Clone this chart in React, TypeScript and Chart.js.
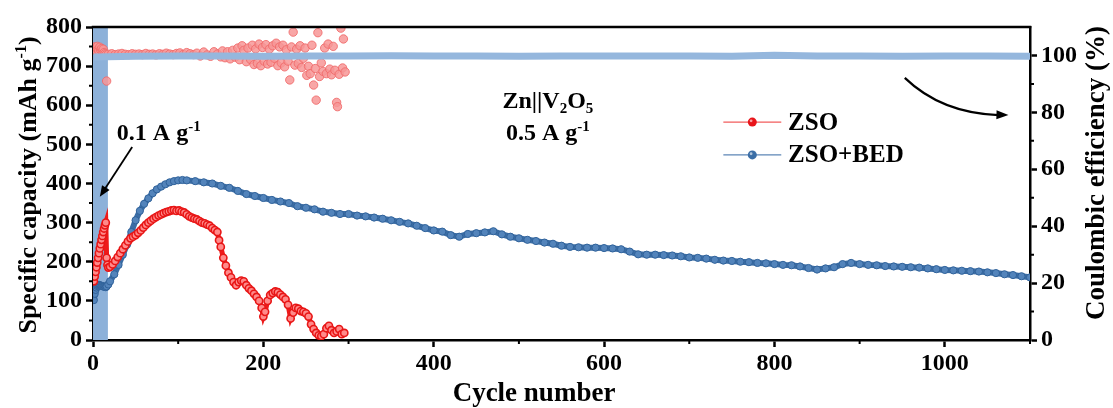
import React, { useEffect, useRef } from 'react';
import { Chart, registerables } from 'chart.js';

Chart.register(...registerables);

const FONT = '"Liberation Serif", "Times New Roman", serif';

// ---- axis ticks ----
const xTicks = [0, 200, 400, 600, 800, 1000];
const xMinorTicks = [100, 300, 500, 700, 900, 1100];
const yLeftTicks = [0, 100, 200, 300, 400, 500, 600, 700, 800];
const yLeftMinorTicks = [50, 150, 250, 350, 450, 550, 650, 750];
const yRightTicks = [0, 20, 40, 60, 80, 100];
const yRightMinorTicks = [10, 30, 50, 70, 90];

// ---- series names ----
const seriesNames = ['ZSO', 'ZSO+BED'];

// ---- ZSO specific capacity (mAh g-1) ----
const zsoCycles = [
  1, 2, 3, 4, 5, 6, 7, 8, 9, 10, 11, 12, 13, 14, 15, 16, 17, 18,
  20, 23, 26, 29, 32, 35, 38, 41, 44, 47, 50, 53, 56, 59, 62, 65, 68, 71, 74, 77, 80, 83, 86, 89, 92, 95, 98,
  101, 104, 107, 110, 113, 116, 119, 122, 125, 128, 131, 134, 137, 140, 143, 146,
  148, 150,
  153, 156, 159, 162, 165, 168, 171, 174, 177, 180, 183, 186, 189, 192, 195, 198,
  200, 202,
  205, 208, 211, 214, 217, 220, 223, 226, 229, 232, 235, 238, 241, 244, 247, 250, 253, 256, 259, 262, 265,
  268, 271, 274, 277, 280, 283, 286, 289, 292, 295,
];
const zsoCapacity = [
  150, 162, 174, 186, 198, 210, 222, 234, 245, 256, 266, 276, 285, 293, 300, 210, 192, 185,
  187, 193, 202, 212, 222, 232, 242, 252, 260, 264, 268, 274, 280, 287, 294, 300, 305, 310, 314, 318, 321, 324, 327, 329, 331, 332, 330,
  331, 328, 326, 321, 316, 313, 310, 308, 304, 300, 298, 295, 292, 286, 281, 276,
  255, 238,
  210, 190, 172, 160, 148, 140, 148, 152, 150, 140, 132, 126, 118, 110, 100, 82,
  60, 72,
  100, 115, 120, 124, 122, 116, 110, 104, 90, 55, 70, 82, 80, 74, 72, 68, 60, 40, 28, 18, 12,
  10, 15, 30, 36, 25, 18, 22, 28, 15, 18,
];

// ---- ZSO+BED specific capacity (mAh g-1) ----
const bedCycles = [
  1, 2, 3, 4, 5, 6, 7, 8, 9, 10, 11, 12, 13, 14, 15,
  16, 18, 20, 25, 30, 35, 40, 45, 50, 55, 60, 65, 70, 75, 80, 85, 90, 95, 100, 105, 110,
  120, 130, 140, 150, 160, 170, 180, 190, 200,
  210, 220, 230, 240, 250, 260, 270, 280, 290, 300,
  310, 320, 330, 340, 350, 360, 370, 380, 390, 400,
  410, 420, 430, 440, 450, 460, 470, 480, 490, 500,
  510, 520, 530, 540, 550, 560, 570, 580, 590, 600,
  610, 620, 630, 640, 650, 660, 670, 680, 690, 700,
  710, 720, 730, 740, 750, 760, 770, 780, 790, 800,
  810, 820, 830, 840, 850, 860, 870, 880, 890, 900,
  910, 920, 930, 940, 950, 960, 970, 980, 990, 1000,
  1010, 1020, 1030, 1040, 1050, 1060, 1070, 1080, 1090, 1100,
];
const bedCapacity = [
  102, 118, 128, 134, 138, 140, 141, 140, 139, 138, 138, 137, 136, 136, 135,
  137, 142, 150, 168, 192, 218, 244, 276, 306, 330, 348, 362, 375, 385, 392, 398, 403, 406, 408, 409, 408,
  406, 403, 400, 394, 389, 381, 373, 368, 363,
  358, 354, 350, 342, 338, 334, 328, 325, 322, 322,
  318, 316, 313, 310, 306, 302, 298, 292, 286, 280,
  277, 268, 264, 271, 273, 275, 278, 270, 264, 260,
  256, 253, 249, 246, 241, 238, 237, 236, 236, 235,
  234, 232, 226, 219, 218, 218, 217, 216, 214, 211,
  210, 208, 205, 203, 202, 200, 199, 197, 196, 194,
  192, 191, 188, 184, 180, 183, 186, 194, 197, 194,
  192, 191, 189, 188, 187, 186, 185, 183, 181, 179,
  178, 177, 176, 175, 173, 171, 168, 166, 163, 160,
];

// ---- ZSO Coulombic efficiency (%) ----
const zsoCeCycles = [
  1, 2, 3, 4, 5, 6, 7, 8, 9, 10, 11, 12, 13, 14, 15, 16,
  18, 22, 26, 30, 34, 38, 42, 46, 50, 54, 58, 62, 66, 70, 74, 78, 82, 86, 90, 94, 98,
  102, 106, 110, 114, 118, 122, 126, 130, 134, 138, 142, 146, 150,
  152, 155, 158, 161, 164, 167, 170, 172, 175, 177, 180, 182, 185, 187, 189, 191, 193, 195, 197, 199,
  201, 203, 205, 207, 209, 211, 213, 215, 217, 219, 221, 223, 225, 227, 229, 231, 233, 235, 237, 239,
  241, 243, 245, 247, 249, 251, 253, 255, 257, 259, 261, 262, 264, 266, 268, 270, 272, 274, 276, 278,
  280, 282, 284, 286, 287, 289, 291, 293, 294, 296,
];
const zsoCe = [
  102.4, 103.0, 101.8, 102.6, 103.2, 102.1, 101.6, 102.9, 101.9, 102.4, 101.5, 102.2, 101.0, 100.6, 100.2, 91.0,
  100.4, 100.6, 100.3, 100.5, 100.7, 100.4, 100.3, 100.6, 100.4, 100.5, 100.3, 100.7, 100.4, 100.5, 100.2, 100.6, 100.4, 100.8, 100.5, 100.3, 100.7,
  100.9, 100.4, 101.0, 100.6, 100.3, 100.8, 99.8, 101.2, 100.2, 99.7, 101.3, 100.5, 99.5,
  101.6, 99.2, 101.3, 98.8, 101.8, 99.4, 102.6, 98.5, 103.4, 101.8, 97.8, 102.6, 98.6, 103.6, 96.8, 102.3, 97.2, 104.0, 96.4, 102.8,
  98.0, 103.8, 97.0, 102.2, 97.6, 103.4, 99.0, 104.3, 96.4, 103.0, 97.4, 103.6, 96.0, 102.0, 98.0, 91.4, 103.0, 108.2, 96.6, 102.2,
  97.2, 103.4, 95.8, 99.0, 102.6, 93.0, 96.2, 93.6, 103.6, 89.6, 95.4, 84.3, 108.0, 92.6, 97.4, 94.4, 102.6, 93.6, 104.0, 95.2,
  93.2, 103.2, 94.8, 83.5, 82.0, 93.4, 109.6, 95.6, 105.8, 94.2,
];

// ---- ZSO+BED Coulombic efficiency (%) ----
const bedCeCycles = [1, 50, 100, 150, 200, 250, 300, 350, 400, 450, 500, 550, 600, 650, 700, 750, 800, 850, 900, 950, 1000, 1050, 1100];
const bedCe = [99.5, 99.7, 99.8, 99.8, 99.7, 99.8, 99.8, 99.9, 99.8, 99.8, 99.7, 99.8, 99.8, 99.8, 99.8, 99.7, 100.1, 99.8, 99.8, 99.7, 99.8, 99.8, 99.7];

// ---- low-rate activation region (cycles) ----
const activationBand = [0, 17.5];

const pairs = (xs: number[], ys: number[]) => xs.map((x, i) => ({ x, y: ys[i] }));

type Part = [string, number];

function drawRich(ctx: CanvasRenderingContext2D, parts: Part[], x: number, y: number, size: number, align: 'left' | 'center') {
  const fontFor = (k: number) => `bold ${k === 0 ? size : Math.round(size * 0.62)}px ${FONT}`;
  let total = 0;
  for (const [t, k] of parts) {
    ctx.font = fontFor(k);
    total += ctx.measureText(t).width;
  }
  let cx = align === 'center' ? x - total / 2 : x;
  ctx.textAlign = 'left';
  ctx.textBaseline = 'alphabetic';
  for (const [t, k] of parts) {
    ctx.font = fontFor(k);
    const dy = k === 1 ? -size * 0.38 : k === -1 ? size * 0.2 : 0;
    ctx.fillText(t, cx, y + dy);
    cx += ctx.measureText(t).width;
  }
}

function arrowHead(ctx: CanvasRenderingContext2D, tx: number, ty: number, angle: number, len: number, half: number) {
  ctx.beginPath();
  ctx.moveTo(tx, ty);
  ctx.lineTo(tx - len * Math.cos(angle) + half * Math.sin(angle), ty - len * Math.sin(angle) - half * Math.cos(angle));
  ctx.lineTo(tx - len * Math.cos(angle) - half * Math.sin(angle), ty - len * Math.sin(angle) + half * Math.cos(angle));
  ctx.closePath();
  ctx.fill();
}

const decorPlugin = {
  id: 'decor',
  beforeDatasetsDraw(chart: any) {
    const { ctx, chartArea } = chart;
    const xs = chart.scales.x;
    const x0 = xs.getPixelForValue(activationBand[0]);
    const x1 = xs.getPixelForValue(activationBand[1]);
    ctx.save();
    ctx.fillStyle = 'rgb(141,177,217)';
    ctx.fillRect(x0, chartArea.top, x1 - x0, chartArea.bottom - chartArea.top);
    ctx.restore();
  },
  afterDraw(chart: any) {
    const { ctx, chartArea } = chart;
    const xs = chart.scales.x;
    const yl = chart.scales.y;
    const yr = chart.scales.y1;
    const px = (v: number) => xs.getPixelForValue(v);
    const py = (v: number) => yl.getPixelForValue(v);
    ctx.save();
    ctx.strokeStyle = '#000';
    ctx.fillStyle = '#000';
    // top frame
    ctx.lineWidth = 2.5;
    ctx.beginPath();
    ctx.moveTo(chartArea.left - 1.25, chartArea.top);
    ctx.lineTo(chartArea.right + 1.25, chartArea.top);
    ctx.stroke();
    // minor ticks
    ctx.lineWidth = 2;
    ctx.beginPath();
    for (const v of xMinorTicks) {
      const x = px(v);
      ctx.moveTo(x, chartArea.bottom);
      ctx.lineTo(x, chartArea.bottom + 4);
    }
    for (const v of yLeftMinorTicks) {
      const y = py(v);
      ctx.moveTo(chartArea.left, y);
      ctx.lineTo(chartArea.left - 4, y);
    }
    for (const v of yRightMinorTicks) {
      const y = yr.getPixelForValue(v);
      ctx.moveTo(chartArea.right, y);
      ctx.lineTo(chartArea.right + 4, y);
    }
    ctx.stroke();

    // annotations
    drawRich(ctx, [['0.1 A g', 0], ['-1', 1]], px(28), py(511), 24, 'left');
    drawRich(ctx, [['Zn||V', 0], ['2', -1], ['O', 0], ['5', -1]], px(534), py(593), 24, 'center');
    drawRich(ctx, [['0.5 A g', 0], ['-1', 1]], px(534), py(511), 24, 'center');

    // straight arrow to the low-rate region
    const ax0 = px(46), ay0 = py(493), ax1 = px(8), ay1 = py(366);
    ctx.lineWidth = 1.8;
    ctx.beginPath();
    ctx.moveTo(ax0, ay0);
    const ang = Math.atan2(ay1 - ay0, ax1 - ax0);
    ctx.lineTo(ax1 - 8 * Math.cos(ang), ay1 - 8 * Math.sin(ang));
    ctx.stroke();
    arrowHead(ctx, ax1, ay1, ang, 11, 4.5);

    // curved arrow to right axis
    const c0x = px(953), c0y = py(670);
    const ccx = px(996), ccy = py(580);
    const c1x = px(1070), c1y = py(575);
    ctx.lineWidth = 2.2;
    ctx.beginPath();
    ctx.moveTo(c0x, c0y);
    ctx.quadraticCurveTo(ccx, ccy, c1x - 6, c1y);
    ctx.stroke();
    arrowHead(ctx, c1x + 4, c1y, Math.atan2(c1y - ccy, c1x - ccx), 12, 4.5);

    // legend
    const legendRows = [
      { name: seriesNames[0], v: 557, line: '#f25c5c', dot: '#e8141a' },
      { name: seriesNames[1], v: 473, line: '#5d86b6', dot: '#3b6ea6' },
    ];
    for (const r of legendRows) {
      const y = py(r.v);
      ctx.strokeStyle = r.line;
      ctx.lineWidth = 1.3;
      ctx.beginPath();
      ctx.moveTo(px(740), y);
      ctx.lineTo(px(808), y);
      ctx.stroke();
      ctx.fillStyle = r.dot;
      ctx.beginPath();
      ctx.arc(px(774), y, 4.5, 0, Math.PI * 2);
      ctx.fill();
      ctx.fillStyle = 'rgba(255,255,255,0.6)';
      ctx.beginPath();
      ctx.arc(px(774) - 1.2, y - 1.2, 1.4, 0, Math.PI * 2);
      ctx.fill();
      ctx.fillStyle = '#000';
      ctx.font = `bold 25px ${FONT}`;
      ctx.textAlign = 'left';
      ctx.textBaseline = 'middle';
      ctx.fillText(r.name, px(816), y + 1);
    }

    // axis titles
    ctx.fillStyle = '#000';
    ctx.font = `bold 27px ${FONT}`;
    ctx.textAlign = 'center';
    ctx.textBaseline = 'alphabetic';
    ctx.fillText('Cycle number', 534, 401);

    ctx.save();
    ctx.translate(36, 185);
    ctx.rotate(-Math.PI / 2);
    drawRich(ctx, [['Specific capacity (mAh g', 0], ['-1', 1], [')', 0]], 0, 0, 26, 'center');
    ctx.restore();

    ctx.save();
    ctx.translate(1104, 173);
    ctx.rotate(-Math.PI / 2);
    drawRich(ctx, [['Coulombic efficiency (%)', 0]], 0, 0, 27, 'center');
    ctx.restore();

    ctx.restore();
  },
};

const tickFont = { family: FONT, size: 24, weight: 'bold' as const };
const axisGrid = { drawOnChartArea: false, drawTicks: true, tickLength: 7, tickWidth: 2.5, tickColor: '#000' };
const axisBorder = { display: true, width: 2.5, color: '#000' };

export default function App() {
  const ref = useRef<HTMLCanvasElement | null>(null);
  useEffect(() => {
    document.body.style.margin = '0';
    const canvas = ref.current;
    if (!canvas) return;
    const chart = new Chart(canvas, {
      type: 'line',
      data: {
        datasets: [
          {
            label: seriesNames[0],
            data: pairs(zsoCycles, zsoCapacity),
            yAxisID: 'y',
            borderColor: '#ee1a1a',
            borderWidth: 5,
            pointRadius: 3.6,
            pointBorderWidth: 1.6,
            pointBorderColor: '#e81616',
            pointBackgroundColor: '#ff8a8a',
          },
          {
            label: seriesNames[1],
            data: pairs(bedCycles, bedCapacity),
            yAxisID: 'y',
            borderColor: '#3b6da5',
            borderWidth: 6,
            pointRadius: 3.6,
            pointBorderWidth: 1,
            pointBorderColor: '#30629a',
            pointBackgroundColor: '#5384bb',
          },
          {
            label: seriesNames[1] + ' CE',
            data: pairs(bedCeCycles, bedCe),
            yAxisID: 'y1',
            borderColor: '#95b7dd',
            borderWidth: 7,
            pointRadius: 0,
          },
          {
            label: seriesNames[0] + ' CE',
            data: pairs(zsoCeCycles, zsoCe),
            yAxisID: 'y1',
            showLine: false,
            pointRadius: 4.2,
            pointBorderWidth: 1,
            pointBorderColor: 'rgba(240,105,105,0.85)',
            pointBackgroundColor: 'rgba(247,150,150,0.85)',
            borderColor: 'rgba(240,105,105,0.85)',
          },
        ],
      },
      options: {
        responsive: false,
        maintainAspectRatio: false,
        animation: false,
        layout: { padding: { top: 27, left: 0, right: 0, bottom: 0 } },
        plugins: { legend: { display: false }, tooltip: { enabled: false } },
        scales: {
          x: {
            type: 'linear',
            min: 0,
            max: 1100,
            afterFit: (s: any) => { s.height = 68; },
            afterBuildTicks: (s: any) => { s.ticks = xTicks.map((v) => ({ value: v })); },
            ticks: { font: tickFont, color: '#000', padding: 2, maxRotation: 0, autoSkip: false, callback: (v: any) => String(v) },
            grid: axisGrid,
            border: axisBorder,
          },
          y: {
            type: 'linear',
            position: 'left',
            min: 0,
            max: 800,
            afterFit: (s: any) => { s.width = 93; },
            afterBuildTicks: (s: any) => { s.ticks = yLeftTicks.map((v) => ({ value: v })); },
            ticks: { font: tickFont, color: '#000', padding: 4, callback: (v: any) => String(v) },
            grid: axisGrid,
            border: axisBorder,
          },
          y1: {
            type: 'linear',
            position: 'right',
            min: 0,
            max: 110,
            afterFit: (s: any) => { s.width = 83; },
            afterBuildTicks: (s: any) => { s.ticks = yRightTicks.map((v) => ({ value: v })); },
            ticks: { font: tickFont, color: '#000', padding: 4, callback: (v: any) => String(v) },
            grid: axisGrid,
            border: axisBorder,
          },
        },
      },
      plugins: [decorPlugin],
    } as any);
    return () => chart.destroy();
  }, []);
  return (
    <div style={{ width: 1113, height: 408, background: '#fff' }}>
      <canvas ref={ref} width={1113} height={408} style={{ display: 'block', width: 1113, height: 408 }} />
    </div>
  );
}
